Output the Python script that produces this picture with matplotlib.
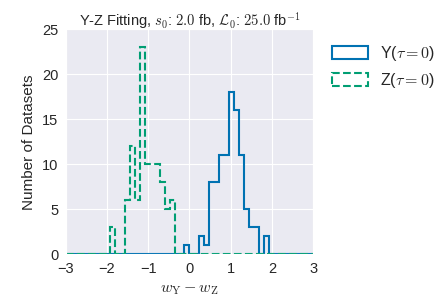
import numpy as np
import matplotlib
matplotlib.use("Agg")
import matplotlib.pyplot as plt
import seaborn as sns

sns.set_style("darkgrid")
plt.rcParams['font.family'] = ['Liberation Sans', 'DejaVu Sans']
plt.rcParams['mathtext.fontset'] = 'cm'

# 50 bins of width 0.12 from -3 to 3
bin_edges = np.linspace(-3, 3, 51)

# counts per bin
y_counts = [0, 0, 0, 0, 0, 0, 0, 0, 0, 0,
            0, 0, 0, 0, 0, 0, 0, 0, 0, 0,
            0, 0, 0, 0, 1, 0, 0, 2, 1, 8,
            8, 11, 11, 18, 16, 11, 5, 3, 3, 0,
            2, 0, 0, 0, 0, 0, 0, 0, 0, 0]
z_counts = [0, 0, 0, 0, 0, 0, 0, 0, 0, 3,
            0, 0, 6, 12, 6, 23, 10, 10, 10, 8,
            5, 6, 0, 0, 0, 0, 0, 0, 0, 0,
            0, 0, 0, 0, 0, 0, 0, 0, 0, 0,
            0, 0, 0, 0, 0, 0, 0, 0, 0, 0]

centers = 0.5 * (bin_edges[:-1] + bin_edges[1:])

fig = plt.figure(figsize=(4.36, 3.0), dpi=100)
ax = fig.add_axes([0.151, 0.152, 0.567, 0.75])

ax.hist(centers, bins=bin_edges, weights=y_counts, histtype='step',
        color='#0072B2', lw=1.5, label=r'Y($\tau=0$)')
ax.hist(centers, bins=bin_edges, weights=z_counts, histtype='step',
        color='#009E73', lw=1.5, ls='--', label=r'Z($\tau=0$)')

ax.set_xlim(-3, 3)
ax.set_ylim(0, 25)
ax.set_xticks(range(-3, 4))
ax.set_yticks(range(0, 26, 5))
ax.tick_params(labelsize=10.5, pad=2)
ax.set_xlabel(r'$w_{\rm Y} - w_{\rm Z}$', fontsize=11.5)
ax.set_ylabel('Number of Datasets', fontsize=11)
ax.set_title(r'Y-Z Fitting, $s_0$: $2.0$ fb, $\mathcal{L}_0$: $25.0$ fb$^{-1}$',
             fontsize=10.5, pad=3)
ax.legend(loc='upper left', bbox_to_anchor=(1.02, 1.0), frameon=False,
          fontsize=11.5, handlelength=2.2, handleheight=0.9)

fig.savefig('out.png', dpi=100)
